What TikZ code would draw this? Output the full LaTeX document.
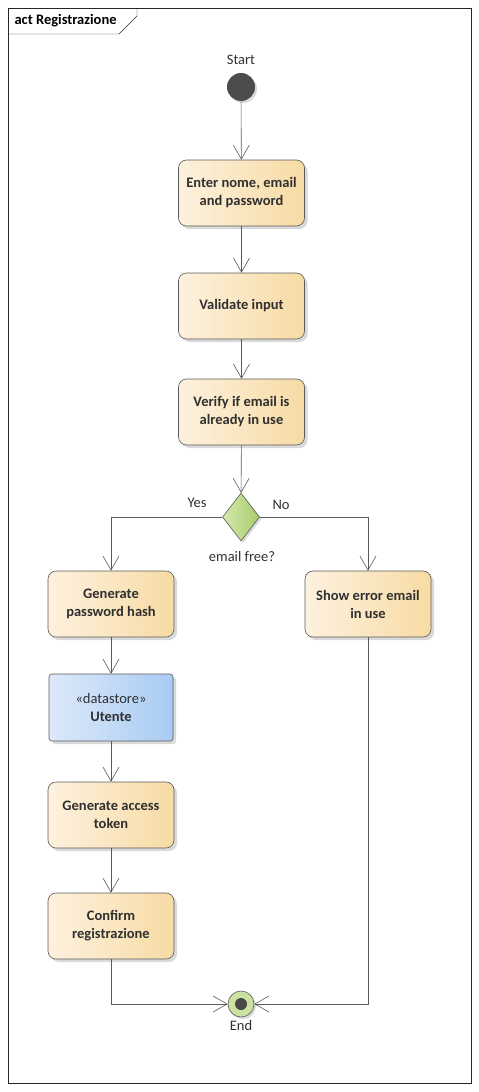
\documentclass[tikz,border=0pt]{standalone}
\usepackage{fontspec}
\setmainfont{Carlito}
\usetikzlibrary{arrows.meta,shapes.geometric,shadows}

\definecolor{linegray}{HTML}{5A5A5A}
\definecolor{txtgray}{HTML}{303030}
\definecolor{actleft}{HTML}{FDF1DE}
\definecolor{actright}{HTML}{F7DBA4}
\definecolor{dsleft}{HTML}{DCE9F9}
\definecolor{dsright}{HTML}{A9CBF3}
\definecolor{decleft}{HTML}{D6E8AE}
\definecolor{decright}{HTML}{A6CC6A}

\tikzset{
  action/.style={draw=linegray, semithick, rounded corners=8pt,
    minimum width=126pt, minimum height=66pt, align=center,
    left color=actleft, right color=actright,
    drop shadow={shadow xshift=3pt, shadow yshift=-3pt, opacity=0.3},
    font=\fontsize{14.5}{18}\selectfont\bfseries, text=txtgray},
  store/.style={action, rounded corners=3pt, minimum width=124pt, minimum height=67pt,
    left color=dsleft, right color=dsright},
  flow/.style={draw=linegray, semithick, -{Straight Barb[length=14pt,width=16pt]}},
  lbl/.style={font=\fontsize{14.5}{16}\selectfont, text=txtgray}
}

\begin{document}
\begin{tikzpicture}[x=1pt,y=-1pt]
\useasboundingbox (0,0) rectangle (479,1092);

% frame and tab
\draw [black!85] (8,8) rectangle (471,1083);
\draw [black!85] (8,34) -- (119,34) -- (137,16) -- (137,8);
\node (title) [lbl, font=\fontsize{14.5}{16}\selectfont\bfseries, text=black, anchor=west] at (11,21) {act Registrazione};

% start
\node (start) [circle, fill=linegray!85!black, minimum size=28pt, inner sep=0pt,
  drop shadow={shadow xshift=2pt, shadow yshift=-2pt, opacity=0.3}] at (241,87) {};
\node (startlbl) [lbl] at (241,60) {Start};

% main actions
\node (enter) [action] at (241.5,193) {Enter nome, email\\and password};
\node (validate) [action] at (241.5,306) {Validate input};
\node (verify) [action] at (241.5,412) {Verify if email is\\already in use};

% decision
\node (check) [diamond, draw=linegray, semithick, minimum width=37pt, minimum height=48pt,
  inner sep=0pt, left color=decleft, right color=decright,
  drop shadow={shadow xshift=2pt, shadow yshift=-2pt, opacity=0.3}] at (241,517) {};
\node (yes) [lbl] at (197,503) {Yes};
\node (no) [lbl] at (281,505) {No};
\node (guard) [lbl] at (242,557) {email free?};

% yes branch
\node (hash) [action] at (111,604) {Generate\\password hash};
\node (utente) [store] at (111,707.5) {{\mdseries «datastore»}\\Utente};
\node (token) [action] at (111,815) {Generate access\\token};
\node (confirm) [action] at (111,926) {Confirm\\registrazione};

% no branch
\node (error) [action] at (368,604) {Show error email\\in use};

% end
\node (end) [circle, draw=linegray, semithick, fill=decleft!80!decright, minimum size=26pt, inner sep=0pt,
  drop shadow={shadow xshift=2pt, shadow yshift=-2pt, opacity=0.3}] at (241,1004) {};
\fill [linegray!80!black] (end.center) circle (6pt);
\node (endlbl) [lbl] at (241,1026) {End};

% connectors
\draw [flow] (start) -- (enter);
\draw [flow] (enter) -- (validate);
\draw [flow] (validate) -- (verify);
\draw [flow] (verify) -- (check);
\draw [flow] (check.west) -| (hash.north);
\draw [flow] (check.east) -| (error.north);
\draw [flow] (hash) -- (utente);
\draw [flow] (utente) -- (token);
\draw [flow] (token) -- (confirm);
\draw [flow] (confirm.south) |- (end.west);
\draw [flow] (error.south) |- (end.east);
\end{tikzpicture}
\end{document}
